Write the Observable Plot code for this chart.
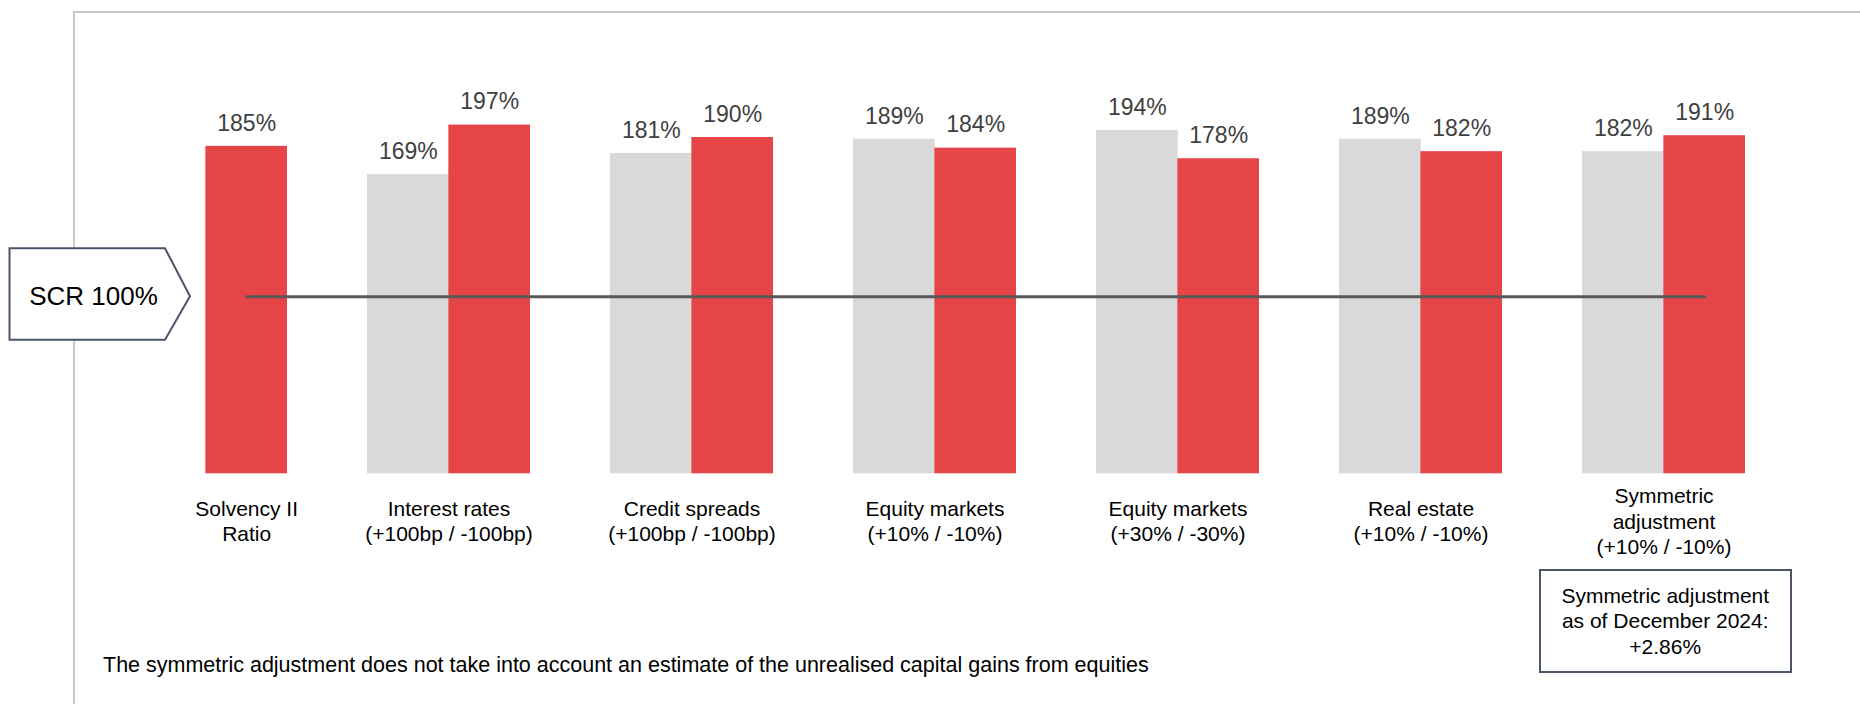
<!DOCTYPE html>
<html>
<head>
<meta charset="utf-8">
<script src="https://cdn.jsdelivr.net/npm/d3@7"></script>
<script src="https://cdn.jsdelivr.net/npm/@observablehq/plot@0.6"></script>
<style>
  body { margin: 0; background: #fff; }
  #wrap { position: relative; width: 1860px; height: 704px; overflow: hidden; font-family: "Liberation Sans", Arial, sans-serif; }
  #frame { position: absolute; left: 72.5px; top: 11px; right: -10px; bottom: -10px; border-left: 2px solid #c9c9c9; border-top: 2px solid #c9c9c9; }
  #chart { position: absolute; left: 0; top: 0; }
  #note { position: absolute; left: 103px; top: 665.5px; transform: translateY(-50%); font-size: 21.5px; line-height: 1; color: #000; white-space: nowrap; }
  #box { position: absolute; left: 1538.5px; top: 569px; width: 253.5px; height: 103.6px; box-sizing: border-box; border: 2px solid #4a5568; display: flex; align-items: center; justify-content: center; text-align: center; font-size: 21px; line-height: 25.5px; color: #000; }
</style>
</head>
<body>
<div id="wrap">
  <div id="frame"></div>
  <div id="chart"></div>
  <div id="note"></div>
  <div id="box"></div>
</div>
<script>
// ---- data ----
const categories = [
  "Solvency II\nRatio",
  "Interest rates\n(+100bp / -100bp)",
  "Credit spreads\n(+100bp / -100bp)",
  "Equity markets\n(+10% / -10%)",
  "Equity markets\n(+30% / -30%)",
  "Real estate\n(+10% / -10%)",
  "Symmetric\nadjustment\n(+10% / -10%)"
];
const upShock   = [null, 169, 181, 189, 194, 189, 182];   // grey bars
const downShock = [185, 197, 190, 184, 178, 182, 191];    // red bars
const scrThreshold = 100;
const scrLabel = "SCR 100%";
const footnote = "The symmetric adjustment does not take into account an estimate of the unrealised capital gains from equities";
const boxNote = ["Symmetric adjustment", "as of December 2024:", "+2.86%"];

// ---- layout ----
const W = 1860, H = 704;
const marginLeft = 124, marginRight = 114.5, marginTop = 30.8, marginBottom = 230.7;
const paddingInner = 0.331;
const step = (W - marginLeft - marginRight) / (categories.length - paddingInner);
const half = step * (1 - paddingInner) / 2;

const upRows = categories.map((c, i) => ({category: c, value: upShock[i]})).filter(d => d.value != null);
const downRows = categories.map((c, i) => ({category: c, value: downShock[i]}));
const scrRows = [categories[0], categories[categories.length - 1]].map(c => ({category: c, value: scrThreshold}));
const singleCats = categories.filter((c, i) => upShock[i] == null);
const pairCats = categories.filter((c, i) => upShock[i] != null);

function scrTag(index, scales) {
  const y = scales.y(scrThreshold);
  const g = d3.create("svg:g");
  g.append("path")
    .attr("d", `M9.5,${y - 48}H165L190,${y}L165,${y + 43.4}H9.5Z`)
    .attr("fill", "#fff").attr("stroke", "#4a5568").attr("stroke-width", 2);
  g.append("text")
    .attr("x", 93.5).attr("y", y).attr("dy", "0.35em")
    .attr("text-anchor", "middle").attr("font-size", 26).attr("fill", "#000")
    .text(scrLabel);
  return g.node();
}

const chart = Plot.plot({
  width: W, height: H,
  marginLeft, marginRight, marginTop, marginBottom,
  style: {fontFamily: "'Liberation Sans', Arial, sans-serif", background: "transparent", overflow: "visible"},
  x: {type: "band", domain: categories, paddingInner, paddingOuter: 0, axis: null},
  y: {domain: [0, 250], axis: null},
  marks: [
    Plot.barY(upRows, {x: "category", y: "value", fill: "#d9d9d9", insetRight: half}),
    Plot.barY(downRows, {x: "category", y: "value", fill: "#e64548", insetLeft: half}),
    Plot.line(scrRows, {x: "category", y: "value", stroke: "#595959", strokeWidth: 3, dx: half / 2}),
    Plot.text(upRows, {x: "category", y: "value", text: d => d.value + "%", dx: -half / 2, dy: -23, lineAnchor: "middle", fontSize: 23, fill: "#404040"}),
    Plot.text(downRows, {x: "category", y: "value", text: d => d.value + "%", dx: half / 2, dy: -23, lineAnchor: "middle", fontSize: 23, fill: "#404040"}),
    Plot.text(pairCats, {x: d => d, text: d => d, frameAnchor: "bottom", dy: 46.5, lineAnchor: "middle", lineHeight: 1.22, fontSize: 21, fill: "#000"}),
    Plot.text(singleCats, {x: d => d, text: d => d, frameAnchor: "bottom", dx: half / 2, dy: 46.5, lineAnchor: "middle", lineHeight: 1.22, fontSize: 21, fill: "#000"}),
    scrTag
  ]
});
document.getElementById("chart").appendChild(chart);
document.getElementById("note").textContent = footnote;
document.getElementById("box").innerHTML = boxNote.join("<br>");
</script>
</body>
</html>
